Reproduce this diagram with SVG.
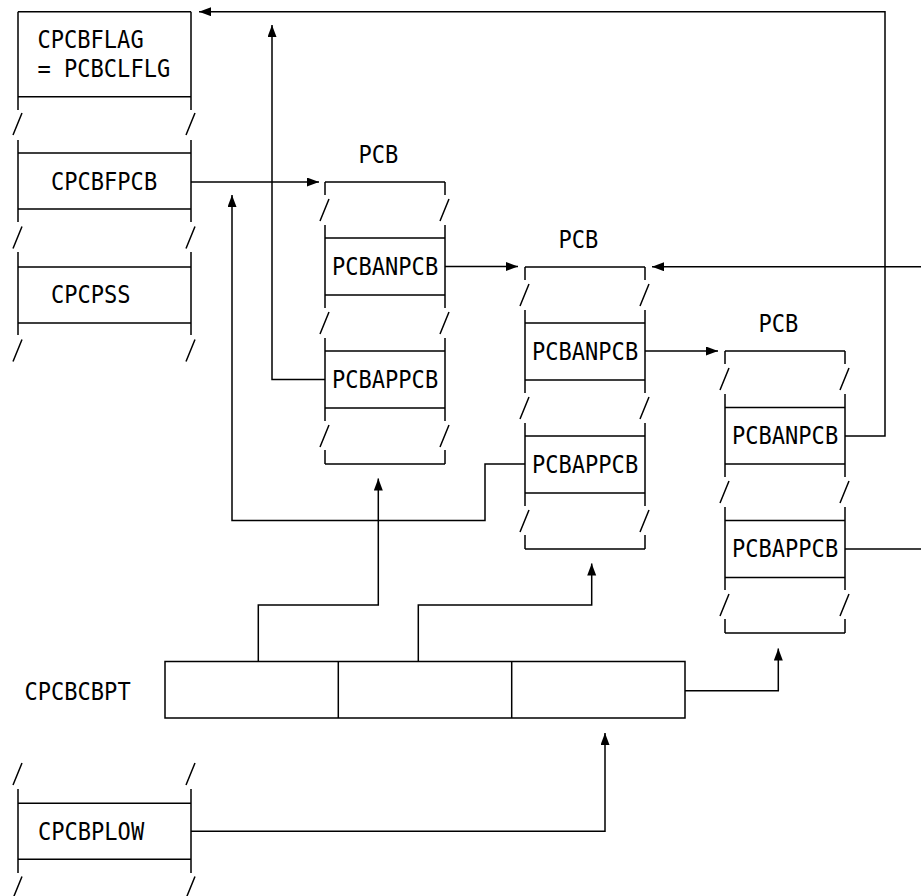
<svg xmlns="http://www.w3.org/2000/svg" width="921" height="896" viewBox="0 0 921 896">
<defs>
<style>
.ln{fill:none;stroke:#000;stroke-width:1.5}
.t{font-family:"DejaVu Sans Mono","Liberation Mono",monospace;font-size:24.5px;fill:#000}
</style>
<marker id="ah" markerUnits="userSpaceOnUse" markerWidth="13" markerHeight="10" refX="12" refY="4.5" orient="auto">
<path d="M0,0 L12,4.5 L0,9 z" fill="#000"/>
</marker>
</defs>
<rect width="921" height="896" fill="#fff"/>

<g id="cpcb">
<path class="ln" d="M18,11.7 H191 M18,11.7 V110 M191,11.7 V110 M18,140 V222 M191,140 V222 M18,252 V335 M191,252 V335
M18,96.7 H191 M18,153 H191 M18,209 H191 M18,267 H191 M18,323 H191
M13,135 L22,113 M186,135 L195,113 M13,248.5 L22,226.5 M186,248.5 L195,226.5 M13,361.5 L22,339.5 M186,361.5 L195,339.5"/>
<text class="t" transform="matrix(0.9,0,0,1,37.5,48)">CPCBFLAG</text>
<text class="t" transform="matrix(0.9,0,0,1,37.5,77)">= PCBCLFLG</text>
<text class="t" transform="matrix(0.9,0,0,1,51,190)">CPCBFPCB</text>
<text class="t" transform="matrix(0.9,0,0,1,51,303)">CPCPSS</text>
</g>

<g id="pcb1">
<text class="t" transform="matrix(0.9,0,0,1,358.5,163)">PCB</text>
<path class="ln" d="M325,182 H445 M325,182 V195 M445,182 V195 M325,225 V308 M445,225 V308 M325,338 V421 M445,338 V421 M325,450 V464 M445,450 V464
M325,238 H445 M325,295 H445 M325,351 H445 M325,408 H445 M325,464 H445
M320,221 L329,199 M440,221 L449,199 M320,334 L329,312 M440,334 L449,312 M320,447 L329,425 M440,447 L449,425"/>
<text class="t" transform="matrix(0.9,0,0,1,332,275)">PCBANPCB</text>
<text class="t" transform="matrix(0.9,0,0,1,332,388)">PCBAPPCB</text>
</g>

<g id="pcb2">
<text class="t" transform="matrix(0.9,0,0,1,558.5,247.5)">PCB</text>
<path class="ln" d="M525,267 H645 M525,267 V280 M645,267 V280 M525,310 V393 M645,310 V393 M525,423 V506 M645,423 V506 M525,535 V549 M645,535 V549
M525,323 H645 M525,380 H645 M525,436 H645 M525,493 H645 M525,549 H645
M520,306 L529,284 M640,306 L649,284 M520,419 L529,397 M640,419 L649,397 M520,532 L529,510 M640,532 L649,510"/>
<text class="t" transform="matrix(0.9,0,0,1,532,360)">PCBANPCB</text>
<text class="t" transform="matrix(0.9,0,0,1,532,473)">PCBAPPCB</text>
</g>

<g id="pcb3">
<text class="t" transform="matrix(0.9,0,0,1,758.5,331.5)">PCB</text>
<path class="ln" d="M725,351 H845 M725,351 V364 M845,351 V364 M725,394 V477 M845,394 V477 M725,507 V590 M845,507 V590 M725,619 V633 M845,619 V633
M725,407.5 H845 M725,464 H845 M725,520.5 H845 M725,577.5 H845 M725,633 H845
M720,390 L729,368 M840,390 L849,368 M720,503 L729,481 M840,503 L849,481 M720,616 L729,594 M840,616 L849,594"/>
<text class="t" transform="matrix(0.9,0,0,1,732,444)">PCBANPCB</text>
<text class="t" transform="matrix(0.9,0,0,1,732,557)">PCBAPPCB</text>
</g>

<g id="cpcbcbpt">
<text class="t" transform="matrix(0.9,0,0,1,24.5,700)">CPCBCBPT</text>
<path class="ln" d="M165,661.5 H685 V718 H165 Z M338.3,661.5 V718 M511.7,661.5 V718"/>
</g>

<g id="cpcbplow">
<path class="ln" d="M18,789 V873 M191,789 V873 M18,803.3 H191 M18,859.3 H191
M13,785 L22,763 M186,785 L195,763 M13,898.5 L22,876.5 M186,898.5 L195,876.5"/>
<text class="t" transform="matrix(0.9,0,0,1,38,840)">CPCBPLOW</text>
</g>

<g id="connectors">
<path class="ln" marker-end="url(#ah)" d="M191,182 H319"/>
<path class="ln" marker-end="url(#ah)" d="M325,379.5 H272 V25"/>
<path class="ln" marker-end="url(#ah)" d="M525,464 H485 V520.5 H232 V195"/>
<path class="ln" marker-end="url(#ah)" d="M845,436 H885 V11.7 H199"/>
<path class="ln" marker-end="url(#ah)" d="M445,266.5 H518"/>
<path class="ln" marker-end="url(#ah)" d="M921,266.7 H652"/>
<path class="ln" marker-end="url(#ah)" d="M645,351 H718"/>
<path class="ln" d="M845,549 H921"/>
<path class="ln" marker-end="url(#ah)" d="M258.3,661.5 V605 H378.3 V478.5"/>
<path class="ln" marker-end="url(#ah)" d="M418.3,661.5 V605 H591.7 V563.5"/>
<path class="ln" marker-end="url(#ah)" d="M685,690.7 H778.3 V648.5"/>
<path class="ln" marker-end="url(#ah)" d="M191,831.3 H605 V733"/>
</g>
</svg>
